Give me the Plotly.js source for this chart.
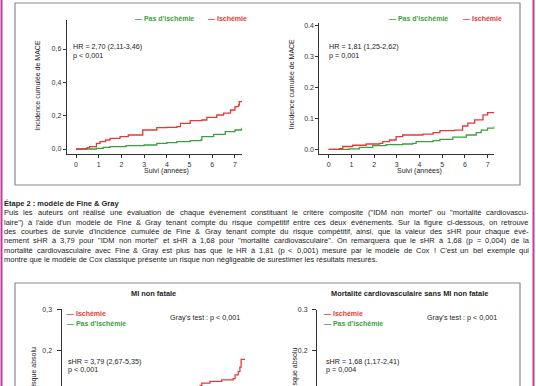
<!DOCTYPE html>
<html><head><meta charset="utf-8">
<script src="https://cdn.plot.ly/plotly-3.0.1.min.js"></script>
<style>html,body{margin:0;padding:0;overflow:hidden;background:#fff;width:536px;height:386px}#c{width:536px;height:470px}</style>
</head><body><div id="c"></div><script>
// ---------- DATA ----------
const yearTicks = [0,1,2,3,4,5,6,7];
const yearLabels = ['0','1','2','3','4','5','6','7'];
const ticks1 = [0,0.2,0.4,0.6];
const labels1 = ['0,0','0,2','0,4','0,6'];
const ticks2 = [0,0.1,0.2,0.3,0.4];
const labels2 = ['0.0','0.1','0.2','0.3','0.4'];
const ticks3 = [0,0.1,0.2,0.3];
const labels3 = ['0,0','0,1','0,2','0,3'];
const labels4 = ['0.0','0.1','0.2','0.3'];

// Chart 1 : MACE (Cox)
const c1RedT = [0,0.45,0.5,0.6,0.9,1.06,1.3,1.5,1.94,2.3,2.94,3.56,4.0,4.44,4.6,5.03,5.54,5.76,6.2,6.5,6.8,7.0,7.16,7.19,7.3];
const c1RedV = [0,0.004,0.008,0.014,0.034,0.044,0.054,0.064,0.074,0.084,0.114,0.128,0.13,0.134,0.154,0.17,0.174,0.19,0.204,0.215,0.234,0.254,0.264,0.284,0.29];
const c1GreenT = [0,0.9,1.2,1.5,2.2,3.0,3.56,4.0,4.44,5.03,5.5,5.54,6.06,6.57,7.0,7.3];
const c1GreenV = [0,0.004,0.01,0.014,0.02,0.024,0.034,0.038,0.044,0.05,0.054,0.074,0.088,0.104,0.114,0.128];
// Chart 2 : mortalité CV (Cox)
const c2RedT = [0,0.47,0.62,1.06,1.65,2.24,2.38,2.68,2.97,3.26,3.7,4.15,4.6,4.9,5.54,5.9,6.13,6.43,6.8,7.0,7.3];
const c2RedV = [0,0.002,0.009,0.013,0.017,0.019,0.025,0.03,0.041,0.046,0.046,0.049,0.054,0.06,0.062,0.075,0.084,0.095,0.111,0.118,0.118];
const c2GreenT = [0,0.9,1.35,1.94,2.53,3.26,3.7,3.85,4.6,4.9,5.47,6.06,6.5,6.72,7.0,7.3];
const c2GreenV = [0,0.001,0.006,0.012,0.015,0.017,0.019,0.025,0.028,0.032,0.039,0.046,0.054,0.062,0.068,0.075];
// Chart 3 : MI non fatale (Fine & Gray)
const c3RedT = [0,0.5,1,1.5,2,2.5,3,3.5,4,4.5,5,5.42,5.49,5.83,6.32,6.8,6.88,7.01,7.08,7.13,7.29];
const c3RedV = [0,0.01,0.025,0.035,0.045,0.055,0.065,0.075,0.085,0.095,0.105,0.115,0.121,0.125,0.129,0.132,0.141,0.149,0.16,0.179,0.179];
const c3GreenT = [0,1,2,3,4,5,6,7,7.29];
const c3GreenV = [0,0.005,0.01,0.015,0.02,0.028,0.035,0.045,0.05];
// Chart 4 : mortalité CV sans MI non fatale (Fine & Gray)
const c4RedT = [0,1,2,3,4,5,6,7,7.29];
const c4RedV = [0,0.01,0.02,0.035,0.045,0.055,0.07,0.09,0.095];
const c4GreenT = [0,1,2,3,4,5,6,7,7.29];
const c4GreenV = [0,0.005,0.012,0.02,0.027,0.035,0.045,0.055,0.06];

const seriesNames = ["Pas d'ischémie","Ischémie"];
const yTitleTop = 'Incidence cumulée de MACE';
const xTitleTop = 'Suivi (années)';
const yTitleBottom = 'Risque absolu';
const stats1 = ['HR = 2,70 (2,11-3,46)','p < 0,001'];
const stats2 = ['HR = 1,81 (1,25-2,62)','p = 0,001'];
const stats3 = ['sHR = 3,79 (2,67-5,35)','p < 0,001'];
const stats4 = ['sHR = 1,68 (1,17-2,41)','p = 0,004'];
const grayTest = "Gray's test : p < 0,001";
const title3 = 'MI non fatale';
const title4 = 'Mortalité cardiovasculaire sans MI non fatale';
const paraTitle = 'Étape 2 : modèle de Fine & Gray';
const paraLines = [
 'Puis les auteurs ont réalisé une évaluation de chaque événement constituant le critère composite ("IDM non mortel" ou "mortalité cardiovascu-',
 'laire") à l\'aide d\'un modèle de Fine & Gray tenant compte du risque compétitif entre ces deux événements. Sur la figure ci-dessous, on retrouve',
 'des courbes de survie d\'incidence cumulée de Fine & Gray tenant compte du risque compétitif, ainsi, que la valeur des sHR pour chaque évé-',
 'nement sHR à 3,79 pour "IDM non mortel" et sHR à 1,68 pour "mortalité cardiovasculaire". On remarquera que le sHR à 1,68 (p = 0,004) de la',
 'mortalité cardiovasculaire avec Fine & Gray est plus bas que le HR à 1,81 (p < 0,001) mesuré par le modèle de Cox ! C\'est un bel exemple qui',
 'montre que le modèle de Cox classique présente un risque non négligeable de surestimer les résultats mesurés.'
];

// ---------- STYLE / LAYOUT ----------
const W=536,H=470;
const F='"Liberation Sans", Arial, sans-serif';
const RED='#e23b36', GREEN='#3ca03c', TXT='#232323', AX='#333333';
const dx=(a,b)=>[a/W,b/W];
const dy=(t,b)=>[1-b/H,1-t/H];
const PX=x=>x/W, PY=y=>1-y/H;
function esc(s){return s.replace(/&/g,'&amp;').replace(/</g,'&lt;').replace(/>/g,'&gt;');}

function axis(dom,range,tv,tt,extra){
  return Object.assign({domain:dom,range:range,tickvals:tv,ticktext:tt,showgrid:false,zeroline:false,
    showline:true,linecolor:AX,linewidth:1,ticks:'outside',ticklen:3,tickwidth:1,tickcolor:AX,
    tickfont:{family:F,size:7,color:AX},fixedrange:true},extra||{});
}
function tr(x,y,color,name,xa,ya){
  return {x:x,y:y,type:'scatter',mode:'lines',line:{color:color,width:1.3,shape:'hv'},name:name,xaxis:xa,yaxis:ya,hoverinfo:'skip'};
}
const data=[
  tr(c1GreenT,c1GreenV,GREEN,seriesNames[0],'x','y'),
  tr(c1RedT,c1RedV,RED,seriesNames[1],'x','y'),
  tr(c2GreenT,c2GreenV,GREEN,seriesNames[0],'x2','y2'),
  tr(c2RedT,c2RedV,RED,seriesNames[1],'x2','y2'),
  tr(c3GreenT,c3GreenV,GREEN,seriesNames[0],'x3','y3'),
  tr(c3RedT,c3RedV,RED,seriesNames[1],'x3','y3'),
  tr(c4GreenT,c4GreenV,GREEN,seriesNames[0],'x4','y4'),
  tr(c4RedT,c4RedV,RED,seriesNames[1],'x4','y4')
];

const ann=[];
function A(x,y,text,o){
  o=o||{};
  ann.push({xref:'paper',yref:'paper',x:PX(x),y:PY(y),text:esc(text),showarrow:false,
    xanchor:o.xa||'left',yanchor:o.ya||'middle',textangle:o.angle||0,borderpad:0,borderwidth:0,
    font:{family:F,size:o.size||7.2,color:o.color||TXT,weight:o.bold?'bold':'normal'}});
}
// top charts
A(37.7,85,yTitleTop,{xa:'center',angle:-90,size:7});
A(166,171,xTitleTop,{xa:'center',size:7});
A(290.5,84,yTitleTop,{xa:'center',angle:-90,size:7});
A(419,171,xTitleTop,{xa:'center',size:7});
A(72.5,46.7,stats1[0]); A(72.5,55.7,stats1[1]);
A(328.5,46.7,stats2[0]); A(328.5,55.7,stats2[1]);
A(135,18.5,'— '+seriesNames[0],{color:GREEN,bold:true,size:7});
A(208,18.5,'— '+seriesNames[1],{color:RED,bold:true,size:7});
A(388.5,18.5,'— '+seriesNames[0],{color:GREEN,bold:true,size:7});
A(462.5,18.5,'— '+seriesNames[1],{color:RED,bold:true,size:7});
// bottom charts
A(153,293.5,title3,{xa:'center',bold:true,size:7.4});
A(409,293.5,title4,{xa:'center',bold:true,size:7.4});
A(66.5,313.5,'— '+seriesNames[1],{color:RED,bold:true,size:7});
A(66.5,323.5,'— '+seriesNames[0],{color:GREEN,bold:true,size:7});
A(324,313.5,'— '+seriesNames[1],{color:RED,bold:true,size:7});
A(324,323.5,'— '+seriesNames[0],{color:GREEN,bold:true,size:7});
A(170,317.7,grayTest); A(427,317.7,grayTest);
A(68.3,361,stats3[0]); A(68.3,369.7,stats3[1]);
A(326,361,stats4[0]); A(326,369.7,stats4[1]);
A(33.5,370,yTitleBottom,{xa:'center',angle:-90,size:7});
A(295,370,yTitleBottom,{xa:'center',angle:-90,size:7});

// paragraph, justified via text measurement
const cv=document.createElement('canvas').getContext('2d');
function tw(s,size,bold){cv.font=(bold?'bold ':'')+size+'px "Liberation Sans"';return cv.measureText(s).width;}
const pL=4, pR=529, lineY0=212.7, lineStep=9.35;
let fs=7.5;
let maxW=0; paraLines.slice(0,-1).forEach(l=>{maxW=Math.max(maxW,tw(l,fs,false));});
if(maxW>(pR-pL)*0.995) fs=fs*(pR-pL)*0.99/maxW;
A(pL,203.3,paraTitle,{bold:true,size:7.5});
paraLines.forEach((line,i)=>{
  const y=lineY0+i*lineStep;
  if(i===paraLines.length-1){A(pL,y,line,{size:fs});return;}
  const words=line.split(' ');
  const ws=words.map(w=>tw(w,fs,false));
  const sum=ws.reduce((a,b)=>a+b,0);
  const gap=(pR-pL-sum)/(words.length-1);
  let x=pL;
  words.forEach((w,k)=>{A(x,y,w,{size:fs});x+=ws[k]+gap;});
});

const shapes=[
  {type:'rect',xref:'paper',yref:'paper',x0:PX(15),x1:PX(520),y0:PY(185),y1:PY(3),line:{color:'#8a8a8a',width:1.2}},
  {type:'rect',xref:'paper',yref:'paper',x0:PX(15),x1:PX(520),y0:PY(520),y1:PY(283),line:{color:'#8a8a8a',width:1.2}},
  {type:'line',xref:'paper',yref:'paper',x0:PX(1.5),x1:PX(1.5),y0:0,y1:1,line:{color:'#c03c9a',width:2}},
  {type:'line',xref:'paper',yref:'paper',x0:PX(533.5),x1:PX(533.5),y0:0,y1:1,line:{color:'#c03c9a',width:2}}
];

const layout={width:W,height:H,margin:{l:0,r:0,t:0,b:0,pad:0},paper_bgcolor:'#ffffff',plot_bgcolor:'rgba(0,0,0,0)',
  showlegend:false,font:{family:F,size:7,color:TXT},
  xaxis:axis(dx(66.7,242),[-0.41,7.31],yearTicks,yearLabels,{anchor:'y',ticklabelstandoff:1}),
  yaxis:axis(dy(20,154),[-0.03,0.774],ticks1,labels1,{anchor:'x'}),
  xaxis2:axis(dx(319.3,494.3),[-0.414,7.295],yearTicks,yearLabels,{anchor:'y2',ticklabelstandoff:1}),
  yaxis2:axis(dy(22.7,154),[-0.0152,0.408],ticks2,labels2,{anchor:'x2'}),
  xaxis3:axis(dx(61.5,250),[-0.354,7.5],yearTicks,yearLabels,{anchor:'y3',showticklabels:false}),
  yaxis3:axis(dy(309,437),[-0.0105,0.3017],ticks3,labels3,{anchor:'x3',ticklen:4,ticklabelstandoff:3}),
  xaxis4:axis(dx(317,505),[-0.375,7.458],yearTicks,yearLabels,{anchor:'y4',showticklabels:false}),
  yaxis4:axis(dy(309.5,437),[-0.0105,0.3005],ticks3,labels4,{anchor:'x4',ticklen:4,ticklabelstandoff:3}),
  annotations:ann,shapes:shapes};
Plotly.newPlot('c',data,layout,{displayModeBar:false,staticPlot:true});
</script></body></html>
